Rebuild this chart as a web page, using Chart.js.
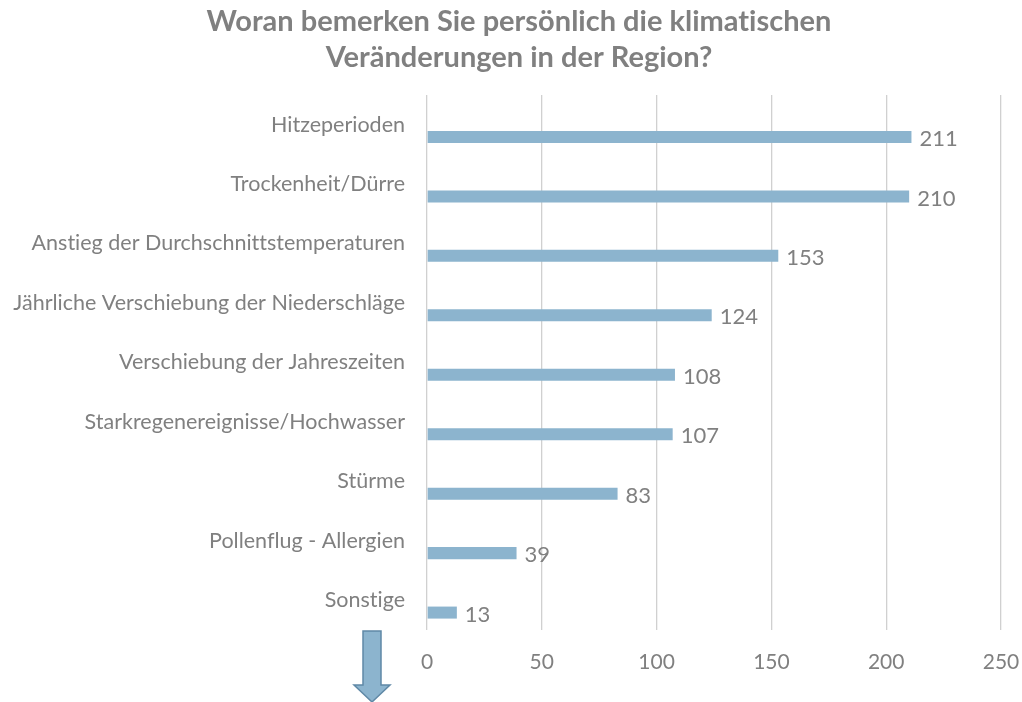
<!DOCTYPE html>
<html>

<head>
    <meta charset="utf-8">
    <title>Klimatische Veränderungen</title>
    <script src="https://cdn.jsdelivr.net/npm/chart.js"></script>
    <style>
        html, body { margin: 0; padding: 0; background: #fff; }
        #wrap { width: 1022px; height: 702px; }
    </style>
</head>

<body>
    <div id="wrap">
        <canvas id="myChart" width="1022" height="702"></canvas>
    </div>
    <script>
    // Antworten und Anzahl der Nennungen
    var categories = [
        'Hitzeperioden',
        'Trockenheit/Dürre',
        'Anstieg der Durchschnittstemperaturen',
        'Jährliche Verschiebung der Niederschläge',
        'Verschiebung der Jahreszeiten',
        'Starkregenereignisse/Hochwasser',
        'Stürme',
        'Pollenflug - Allergien',
        'Sonstige'
    ];
    var counts = [211, 210, 153, 124, 108, 107, 83, 39, 13];
    var xTicks = [0, 50, 100, 150, 200, 250];

    var grey = '#808080';

    // keine Ligaturen (ti, fi ...), lange Achsenbeschriftungen nicht abschneiden
    var prepare = {
        id: 'prepare',
        beforeDraw: function (chart) {
            chart.ctx.textRendering = 'optimizeSpeed';
            chart.scales.y.left = 0;
        }
    };

    // Zahlen rechts neben den Balken
    var valueLabels = {
        id: 'valueLabels',
        afterDatasetsDraw: function (chart) {
            var ctx = chart.ctx;
            var meta = chart.getDatasetMeta(1);
            ctx.save();
            ctx.font = '22px Lato';
            ctx.fillStyle = grey;
            ctx.textAlign = 'left';
            ctx.textBaseline = 'middle';
            meta.data.forEach(function (bar, i) {
                ctx.fillText(String(counts[i]), bar.x + 8, bar.y + 2);
            });
            ctx.restore();
        }
    };

    // Pfeil unter der Achse
    var arrow = {
        id: 'arrow',
        afterDraw: function (chart) {
            var ctx = chart.ctx;
            ctx.save();
            ctx.beginPath();
            ctx.moveTo(363, 631);
            ctx.lineTo(381, 631);
            ctx.lineTo(381, 685);
            ctx.lineTo(390, 685);
            ctx.lineTo(372, 702);
            ctx.lineTo(354, 685);
            ctx.lineTo(363, 685);
            ctx.closePath();
            ctx.fillStyle = '#8cb4ce';
            ctx.fill();
            ctx.lineWidth = 1.5;
            ctx.strokeStyle = '#5f88a6';
            ctx.stroke();
            ctx.restore();
        }
    };

    var ctx = document.getElementById('myChart').getContext('2d');
    var myChart = new Chart(ctx, {
        type: 'bar',
        data: {
            labels: categories,
            datasets: [{
                // leere Reihe, damit der Balken unter der Beschriftung liegt
                data: categories.map(function () { return null; }),
                backgroundColor: 'rgba(0,0,0,0)'
            }, {
                label: 'Nennungen',
                data: counts,
                backgroundColor: '#8cb4ce',
                borderWidth: 0
            }]
        },
        options: {
            indexAxis: 'y',
            responsive: false,
            animation: false,
            categoryPercentage: 0.828,
            barPercentage: 0.488,
            layout: { padding: { left: 16, right: 0, top: 0, bottom: 0 } },
            plugins: {
                legend: { display: false },
                tooltip: { enabled: false },
                title: {
                    display: true,
                    text: ['Woran bemerken Sie persönlich die klimatischen', 'Veränderungen in der Region?'],
                    color: grey,
                    font: { family: 'Lato', size: 29, weight: 'bold', lineHeight: 1.24 },
                    padding: { top: 4, bottom: 19 }
                }
            },
            scales: {
                x: {
                    min: 0,
                    max: 250,
                    afterBuildTicks: function (scale) {
                        scale.ticks = xTicks.map(function (v) { return { value: v }; });
                    },
                    afterFit: function (scale) {
                        scale.height = 72;
                        scale.paddingLeft = 0;
                        scale.paddingRight = 21;
                    },
                    grid: { color: '#d0d0d0', lineWidth: 1.3, drawTicks: false },
                    border: { display: false },
                    ticks: {
                        color: grey,
                        padding: 20,
                        font: { family: 'Lato', size: 21 }
                    }
                },
                y: {
                    afterFit: function (scale) { scale.width = 411; },
                    grid: { display: false, drawTicks: false },
                    border: { display: false },
                    ticks: {
                        color: grey,
                        padding: 22,
                        autoSkip: false,
                        font: { family: 'Lato', size: 21.5 }
                    }
                }
            }
        },
        plugins: [prepare, valueLabels, arrow]
    });
    </script>
</body>

</html>
